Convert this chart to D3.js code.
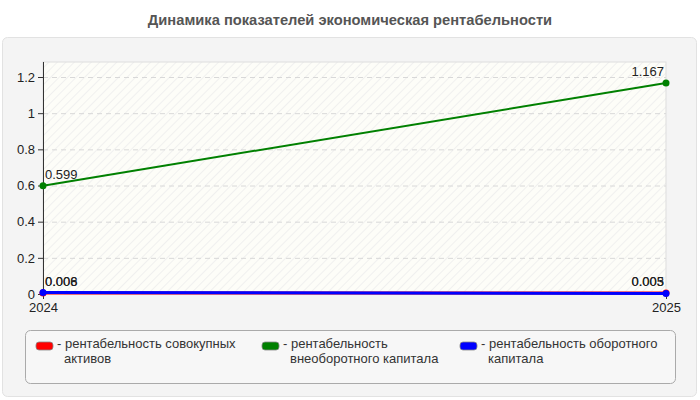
<!DOCTYPE html>
<html><head><meta charset="utf-8">
<script src="https://cdn.jsdelivr.net/npm/d3@7"></script>
<style>body{margin:0;background:#fff;font-family:Arial,"Liberation Sans",sans-serif}</style>
</head><body><svg id="c" width="700" height="400"></svg>
<script>
const title = "Динамика показателей экономическая рентабельности";
const years = ["2024","2025"];
const seriesNames = ["рентабельность совокупных активов","рентабельность внеоборотного капитала","рентабельность оборотного капитала"];
const seriesColors = ["#ff0000","#008000","#0000ff"];
const assetsVals = [0.006, 0.005];
const nonCurrentVals = [0.599, 1.167];
const currentVals = [0.008, 0.003];
const yTicks = [0,0.2,0.4,0.6,0.8,1,1.2];
const legendLines = [["рентабельность совокупных","активов"],["рентабельность","внеоборотного капитала"],["рентабельность оборотного","капитала"]];

const series = [assetsVals, nonCurrentVals, currentVals];
const FS = 13;
const svg = d3.select("#c");
const defs = svg.append("defs");
const pat = defs.append("pattern").attr("id","hatch").attr("width",6).attr("height",6)
  .attr("patternUnits","userSpaceOnUse").attr("patternTransform","rotate(45)");
pat.append("rect").attr("width",6).attr("height",6).attr("fill","#fdfdf8");
pat.append("line").attr("x1",0).attr("y1",0).attr("x2",0).attr("y2",6).attr("stroke","#ececec").attr("stroke-width",1.5);

svg.append("text").attr("x",350).attr("y",25).attr("text-anchor","middle")
  .attr("font-size",14.7).attr("font-weight","bold").attr("fill","#555").text(title);
svg.append("rect").attr("x",2.5).attr("y",37.5).attr("width",694).attr("height",359).attr("rx",5)
  .attr("fill","#f4f4f4").attr("stroke","#e2e2e2");

const x0=43,x1=666,yTop=62,yBot=294;
const x = d3.scalePoint().domain(years).range([x0,x1]);
const y = d3.scaleLinear().domain([0,1.2]).range([yBot,77]);

svg.append("rect").attr("x",x0).attr("y",yTop).attr("width",x1-x0).attr("height",yBot-yTop)
  .attr("fill","url(#hatch)").attr("stroke","#ddd");
const g = svg.append("g");
g.selectAll(".grid").data(yTicks.filter(d=>d>0)).join("line")
  .attr("x1",x0).attr("x2",x1).attr("y1",d=>y(d)+0.5).attr("y2",d=>y(d)+0.5)
  .attr("stroke","#d8d8d8").attr("stroke-dasharray","5,4");

const ya = svg.append("g").attr("transform",`translate(${x0},0)`)
  .call(d3.axisLeft(y).tickValues(yTicks).tickSize(5).tickFormat(d3.format("")));
ya.select(".domain").attr("d",`M0.5,${yTop}V${yBot}`).attr("stroke","#333");
ya.selectAll("text").attr("font-size",FS).attr("fill","#222").attr("font-family","Arial,'Liberation Sans'");
ya.selectAll(".tick line").attr("stroke","#333");

const xa = svg.append("g").attr("transform",`translate(0,${yBot})`)
  .call(d3.axisBottom(x).tickSize(5).tickPadding(4));
xa.select(".domain").remove();
xa.selectAll("text").attr("font-size",FS).attr("fill","#222").attr("font-family","Arial,'Liberation Sans'");
xa.selectAll(".tick line").attr("stroke","#333");

const line = d3.line().x((d,i)=>x(years[i])).y(d=>y(d));
series.forEach((vals,si)=>{
  svg.append("path").datum(vals).attr("d",line).attr("fill","none")
    .attr("stroke",seriesColors[si]).attr("stroke-width",si===1?2:3);
  svg.selectAll(null).data(vals).join("circle").attr("cx",(d,i)=>x(years[i])).attr("cy",d=>y(d))
    .attr("r",3.5).attr("fill",seriesColors[si]);
  svg.selectAll(null).data(vals).join("text")
    .attr("x",(d,i)=>i===0?x(years[i])+2:x(years[i])-2)
    .attr("y",d=>y(d)-7)
    .attr("text-anchor",(d,i)=>i===0?"start":"end")
    .attr("font-size",FS).attr("fill","#222").text(d=>d3.format(".3~f")(d));
});

svg.append("rect").attr("x",25.5).attr("y",330.5).attr("width",650).attr("height",53).attr("rx",5)
  .attr("fill","#f7f7f7").attr("stroke","#aaa");
const legX=[36,262,460];
legendLines.forEach((ls,i)=>{
  svg.append("rect").attr("x",legX[i]).attr("y",342).attr("width",17).attr("height",8).attr("rx",3)
    .attr("fill",seriesColors[i]).attr("stroke","#888").attr("stroke-width",0.8);
  const t = svg.append("text").attr("x",legX[i]+21).attr("y",348).attr("font-size",FS).attr("fill","#333");
  t.append("tspan").text("- " + ls[0]);
  t.append("tspan").attr("x",legX[i]+28).attr("dy",14.5).text(ls[1]);
});
</script></body></html>
